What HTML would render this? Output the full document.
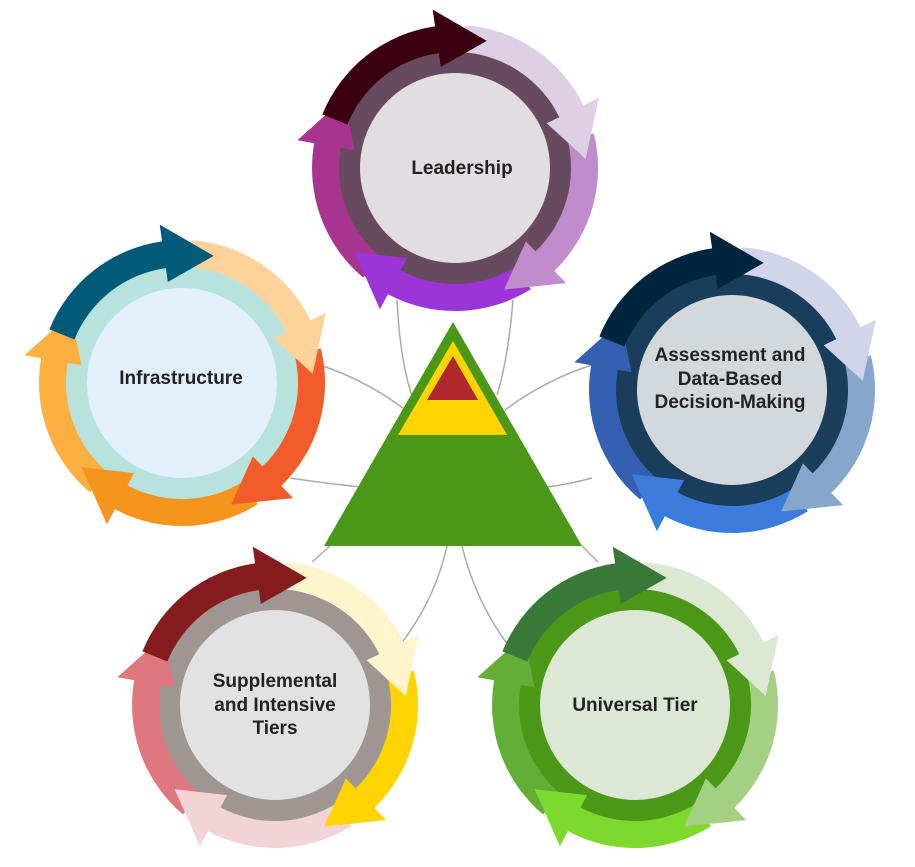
<!DOCTYPE html>
<html><head><meta charset="utf-8"><style>
html,body{margin:0;padding:0;background:#fff;}
svg{display:block;}
text{font-family:"Liberation Sans",sans-serif;font-weight:bold;font-size:19px;fill:#222;text-anchor:middle;}
</style></head><body>
<svg id="s" width="915" height="867" viewBox="0 0 915 867" xmlns="http://www.w3.org/2000/svg">
<g fill="none" stroke="#aaa" stroke-width="1.5">
<path d="M397,300 Q400,360 412,396"/>
<path d="M513,300 Q508,360 497,395"/>
<path d="M320,365 Q365,380 403,408"/>
<path d="M290,478 Q330,484 362,487"/>
<path d="M592,365 Q545,380 505,410"/>
<path d="M592,478 Q570,484 548,487"/>
<path d="M312,562 L330,546"/>
<path d="M447,546 Q435,600 400,645"/>
<path d="M462,546 Q475,600 508,645"/>
<path d="M582,546 L598,562"/>
</g>
<polygon points="453,322 582,546 324,546" fill="#4b9818"/>
<polygon points="453,341 507,435 398,435" fill="#ffd400"/>
<polygon points="453,356 478,400 427,400" fill="#b0282c"/>
<g id="circles"></g>
<text x="462" y="174">Leadership</text>
<text x="730" y="361">Assessment and</text>
<text x="730" y="385">Data-Based</text>
<text x="730" y="408">Decision-Making</text>
<text x="181" y="384">Infrastructure</text>
<text x="275" y="687">Supplemental</text>
<text x="275" y="711">and Intensive</text>
<text x="275" y="734">Tiers</text>
<text x="635" y="711">Universal Tier</text>
</svg>
<script>
var C=[
[455,168,["#3a0012","#dcd0e4","#c08ccc","#9b35d8","#a8348f"],"#684a5e","#e2dde0"],
[732,390,["#00263e","#d2d4ea","#86a6cc","#3a7bdc","#3360b0"],"#1a3d5c","#d2d8dc"],
[182,383,["#005a78","#ffd29c","#f25c2a","#f7941d","#fbb040"],"#b8e2dc","#e2f0fc"],
[275,705,["#841c1f","#fff4cc","#ffd400","#f2d4d8","#de787e"],"#9e9693","#e2e2e2"],
[635,705,["#38793a","#dce8d2","#a4d084","#7ed92e","#62ae36"],"#4b9818","#dce8d4"]];
var g=document.getElementById("circles"),h="";
function P(cx,cy,r,a){a=a*Math.PI/180;return (cx+r*Math.cos(a)).toFixed(1)+","+(cy+r*Math.sin(a)).toFixed(1);}
C.forEach(function(c){
var cx=c[0],cy=c[1];
h+='<circle cx="'+cx+'" cy="'+cy+'" r="117" fill="'+c[3]+'"/>';
h+='<circle cx="'+cx+'" cy="'+cy+'" r="95" fill="'+c[4]+'"/>';
var R1=116,R2=143,heads=[284,356,68,140,212];
for(var k=4;k>=0;k--){
var hd=heads[k],a1=hd-22,a0=hd-82;
var d="M"+P(cx,cy,R2,a0)+" A"+R2+","+R2+" 0 0 1 "+P(cx,cy,R2,a1)+" L"+P(cx,cy,160,a1)+" L"+P(cx,cy,131,hd)+" L"+P(cx,cy,102,a1)+" L"+P(cx,cy,R1,a1)+" A"+R1+","+R1+" 0 0 0 "+P(cx,cy,R1,a0)+" Z";
h+='<path d="'+d+'" fill="'+c[2][k]+'"/>';
}
});
g.innerHTML=h;
</script>
</body></html>
